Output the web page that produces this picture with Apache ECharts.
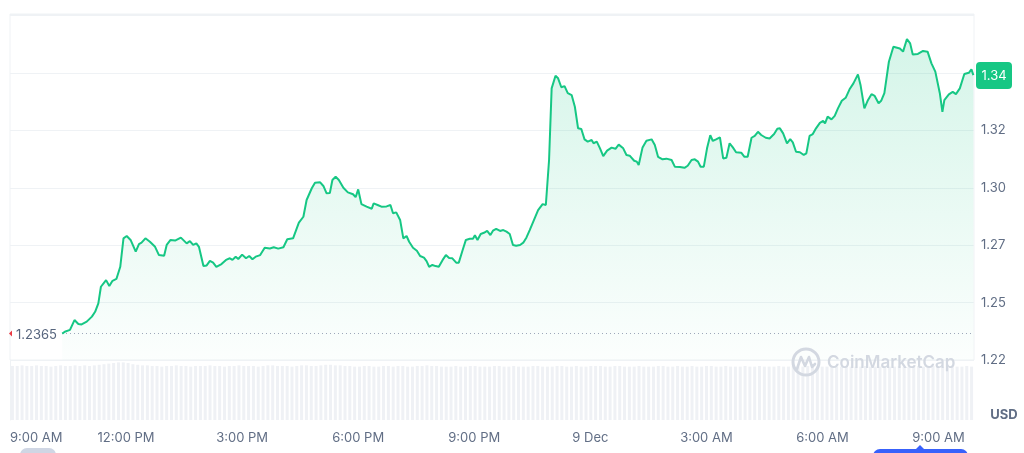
<!DOCTYPE html>
<html>
<head>
<meta charset="utf-8">
<script src="https://cdn.jsdelivr.net/npm/echarts@6/dist/echarts.min.js"></script>
<style>
html,body{margin:0;padding:0;background:#fff;}
#c{width:1024px;height:453px;}
</style>
</head>
<body>
<div id="c"></div>
<script>
// x labels every 180 minutes starting 9:00 AM (8 Dec)
const xLabels = ['9:00 AM','12:00 PM','3:00 PM','6:00 PM','9:00 PM','9 Dec','3:00 AM','6:00 AM','9:00 AM'];
// y tick values and their labels
const yTicks = [1.225, 1.25, 1.275, 1.30, 1.325, 1.35];
const yLabels = ['1.22','1.25','1.27','1.30','1.32',''];
const openPrice = 1.2365;
const currency = 'USD';

// minutes since 9:00 AM
const times = [
81,85,93,100,106,111,119,127,132,137,141,149,154,159,165,171,176,181,187,195,
200,204,210,217,225,231,239,243,249,256,265,274,279,284,289,293,300,305,310,315,
320,328,335,341,345,350,354,360,366,371,376,381,388,395,403,409,416,424,430,439,
448,455,460,468,473,481,486,491,496,500,505,510,517,524,532,536,540,545,553,561,
564,571,576,584,590,594,599,605,610,615,619,625,631,636,642,646,650,655,660,665,
671,676,681,686,692,696,702,707,713,718,721,725,730,735,740,745,749,754,760,765,
770,775,780,785,791,796,801,806,819,826,831,836,840,846,850,855,860,865,871,876,
881,886,891,896,902,905,910,915,920,926,933,939,944,951,956,961,968,972,975,981,
987,995,1000,1005,1012,1018,1026,1031,1039,1046,1051,1057,1062,1067,1071,1076,1081,1086,1090,1095,
1101,1106,1111,1116,1121,1126,1134,1139,1144,1150,1155,1160,1165,1172,1178,1185,1190,1194,1199,1205,
1210,1214,1219,1225,1231,1235,1240,1245,1250,1256,1261,1264,1268,1274,1279,1284,1290,1296,1302,1308,
1315,1319,1325,1330,1336,1341,1347,1351,1356,1363,1370,1380,1385,1391,1396,1400,1408,1416,1423,1429,
1435,1442,1446,1449,1456,1462,1467,1473,1480,1487,1491,1494
];
const prices = [
1.2365,1.2373,1.2381,1.2424,1.2407,1.2405,1.2417,1.2439,1.2460,1.2497,1.2569,1.2598,1.2572,1.2595,1.2603,1.2656,1.2780,1.2790,1.2773,1.2722,
1.2755,1.2761,1.2780,1.2765,1.2743,1.2707,1.2704,1.2751,1.2773,1.2770,1.2783,1.2758,1.2768,1.2751,1.2758,1.2743,1.2659,1.2662,1.2682,1.2674,
1.2656,1.2668,1.2686,1.2693,1.2686,1.2700,1.2690,1.2709,1.2693,1.2703,1.2689,1.2700,1.2707,1.2739,1.2736,1.2741,1.2735,1.2741,1.2776,1.2780,
1.2848,1.2874,1.2947,1.2998,1.3022,1.3024,1.3008,1.2976,1.2977,1.3034,1.3048,1.3034,1.3000,1.2980,1.2972,1.2959,1.2993,1.2929,1.2918,1.2909,
1.2932,1.2924,1.2918,1.2919,1.2925,1.2889,1.2893,1.2860,1.2780,1.2790,1.2765,1.2739,1.2726,1.2703,1.2696,1.2681,1.2656,1.2664,1.2659,1.2656,
1.2686,1.2707,1.2694,1.2693,1.2674,1.2674,1.2729,1.2773,1.2778,1.2778,1.2793,1.2773,1.2799,1.2804,1.2812,1.2794,1.2813,1.2821,1.2812,1.2816,
1.2809,1.2799,1.2751,1.2748,1.2751,1.2761,1.2784,1.2816,1.2903,1.2929,1.2925,1.3121,1.3433,1.3488,1.3477,1.3438,1.3443,1.3412,1.3404,1.3353,
1.3259,1.3256,1.3211,1.3201,1.3208,1.3194,1.3201,1.3172,1.3138,1.3162,1.3175,1.3170,1.3188,1.3172,1.3143,1.3140,1.3118,1.3114,1.3099,1.3176,
1.3205,1.3211,1.3186,1.3135,1.3124,1.3127,1.3121,1.3092,1.3091,1.3087,1.3096,1.3121,1.3124,1.3114,1.3092,1.3092,1.3172,1.3229,1.3204,1.3211,
1.3220,1.3128,1.3131,1.3194,1.3176,1.3155,1.3153,1.3135,1.3135,1.3218,1.3226,1.3244,1.3230,1.3218,1.3215,1.3234,1.3257,1.3259,1.3237,1.3194,
1.3212,1.3198,1.3157,1.3155,1.3143,1.3150,1.3226,1.3234,1.3259,1.3283,1.3291,1.3281,1.3310,1.3298,1.3313,1.3346,1.3379,1.3392,1.3429,1.3455,
1.3494,1.3448,1.3346,1.3379,1.3408,1.3400,1.3368,1.3379,1.3412,1.3549,1.3614,1.3607,1.3593,1.3648,1.3629,1.3581,1.3583,1.3596,1.3593,1.3542,
1.3506,1.3412,1.3331,1.3382,1.3407,1.3418,1.3408,1.3433,1.3496,1.3501,1.3516,1.3491
];
// volume bars (relative heights), evenly spread over the time range
const volumes = [
90,90,91,90,90,91,90,90,89,90,91,90,90,91,90,91,90,91,92,93,
94,95,96,96,95,93,92,91,91,90,90,89,90,90,91,90,90,89,90,90,
90,91,90,90,89,90,90,91,90,90,90,89,90,91,91,90,90,90,89,90,
91,91,90,90,91,92,92,91,91,90,90,89,89,90,90,89,89,90,90,89,
90,90,89,89,90,90,91,90,90,89,89,89,90,89,89,90,90,89,89,89,
90,90,89,89,90,89,89,89,90,90,89,89,89,90,90,89,89,90,89,89,
90,90,90,89,89,90,90,89,89,89,90,89,89,89,90,90,89,89,90,89,
89,90,89,89,90,90,89,89,90,89,89,89,90,89,89,90,89,89,89,90,
89,89,90,89,89,90,90,89,89,89,90,89,89,90,89,89,89,90,89,89,
89,90,89,89,90,89,89,89,90,89,89,90,89,89,90,89,89,89,90,89
];

const X_MAX = 1495, X_STEP = 180;
const Y_MIN = 1.225, Y_MAX = 1.3757, Y_STEP = 0.025;

const lineData = times.map((t, i) => [t, prices[i]]);
const volStep = X_MAX / volumes.length;
const volData = volumes.map((v, i) => [(i + 0.5) * volStep, v]);

const green = '#16c784';
const labelColor = '#616e85';
const gridColor = '#eff2f5';

const chart = echarts.init(document.getElementById('c'), null, {renderer: 'canvas'});
const option = {
  animation: false,
  backgroundColor: '#ffffff',
  textStyle: {fontFamily: 'Inter, sans-serif'},
  grid: [
    {left: 10, right: 50, top: 14, bottom: 93, show: true, borderColor: gridColor, borderWidth: 1, backgroundColor: 'transparent'},
    {left: 10, right: 50, top: 360, bottom: 33, show: false}
  ],
  xAxis: [
    {type: 'value', gridIndex: 0, min: 0, max: X_MAX, interval: X_STEP,
     axisLine: {show: false}, axisTick: {show: false}, axisLabel: {show: false}, splitLine: {show: false}},
    {type: 'value', gridIndex: 1, min: 0, max: X_MAX, interval: X_STEP,
     axisLine: {show: false}, axisTick: {show: false}, splitLine: {show: false},
     axisLabel: {show: true, color: labelColor, fontSize: 13, margin: 12, fontFamily: 'Inter',
       showMaxLabel: false, alignMinLabel: 'left',
       formatter: v => (Math.abs(v % X_STEP) < 1e-6 ? (xLabels[Math.round(v / X_STEP)] || '') : '')}}
  ],
  yAxis: [
    {type: 'value', gridIndex: 0, position: 'right', min: Y_MIN, max: Y_MAX, interval: Y_STEP,
     axisLine: {show: false}, axisTick: {show: false},
     splitLine: {show: true, lineStyle: {color: gridColor, width: 1}},
     axisLabel: {color: labelColor, fontSize: 13, margin: 7, fontFamily: 'Inter', showMaxLabel: false,
       formatter: v => {
         const i = yTicks.findIndex(t => Math.abs(t - v) < 1e-6);
         return i >= 0 ? yLabels[i] : '';
       }}},
    {type: 'value', gridIndex: 1, position: 'left', min: 0, max: 100,
     axisLine: {show: true, lineStyle: {color: gridColor}}, axisTick: {show: false},
     axisLabel: {show: false}, splitLine: {show: false}}
  ],
  series: [
    {type: 'bar', xAxisIndex: 1, yAxisIndex: 1, data: volData, barWidth: 3,
     itemStyle: {color: '#eff1f5'}, silent: true},
    {type: 'line', xAxisIndex: 0, yAxisIndex: 0, data: lineData, showSymbol: false, symbol: 'none',
     lineStyle: {color: green, width: 2}, z: 5,
     areaStyle: {color: new echarts.graphic.LinearGradient(0, 0, 0, 1, [
       {offset: 0, color: 'rgba(22,199,132,0.26)'},
       {offset: 1, color: 'rgba(22,199,132,0.02)'}
     ])},
     markLine: {silent: true, symbol: 'none', precision: 4, label: {show: false},
       lineStyle: {color: '#a1a7bb', type: [1, 3], width: 1},
       data: [{yAxis: openPrice}]}}
  ]
};
chart.setOption(option);

const last = lineData[lineData.length - 1];
const pLast = chart.convertToPixel({xAxisIndex: 0, yAxisIndex: 0}, last);
const pOpen = chart.convertToPixel({xAxisIndex: 0, yAxisIndex: 0}, [0, openPrice]);
const lastLabel = (Math.floor(last[1] * 100) / 100).toFixed(2);

chart.setOption({
  graphic: [
    // open price label
    {type: 'rect', z: 20, shape: {x: 14, y: pOpen[1] - 8, width: 47, height: 16}, style: {fill: '#ffffff'}},
    {type: 'polygon', z: 21, shape: {points: [[9, pOpen[1]], [12, pOpen[1] - 3], [12, pOpen[1] + 3]]}, style: {fill: '#ea3943'}},
    {type: 'text', z: 21, x: 16, y: pOpen[1] + 1, style: {text: String(openPrice), fill: '#58667e', font: '13px Inter', verticalAlign: 'middle', align: 'left'}},
    // last price badge
    {type: 'rect', z: 20, shape: {x: 976, y: pLast[1] - 13, width: 36, height: 27, r: 4}, style: {fill: green}},
    {type: 'text', z: 21, x: 994, y: pLast[1] + 1, style: {text: lastLabel, fill: '#ffffff', font: '13px Inter', align: 'center', verticalAlign: 'middle'}},
    // currency
    {type: 'text', z: 21, x: 1004, y: 415, style: {text: currency, fill: '#616e85', font: 'bold 13px Inter', align: 'center', verticalAlign: 'middle'}},
    // watermark
    {type: 'circle', z: 15, shape: {cx: 806, cy: 362, r: 13}, style: {fill: 'none', stroke: '#d3d8e1', lineWidth: 3}},
    {type: 'polyline', z: 15, shape: {points: [[797, 369], [801, 357], [805, 366], [809, 357], [812, 367], [815, 364]]}, style: {fill: 'none', stroke: '#d3d8e1', lineWidth: 2.6, lineJoin: 'round', lineCap: 'round'}},
    {type: 'text', z: 15, x: 827, y: 363, style: {text: 'CoinMarketCap', fill: '#d3d8e1', font: '600 17px Inter', verticalAlign: 'middle', align: 'left'}},
    // cut-off controls at bottom
    {type: 'rect', z: 15, shape: {x: 20, y: 448, width: 36, height: 14, r: 7}, style: {fill: '#cfd6e4'}},
    {type: 'rect', z: 15, shape: {x: 873, y: 449, width: 95, height: 14, r: 7}, style: {fill: '#3861fb'}},
    {type: 'polygon', z: 15, shape: {points: [[915, 450], [920, 445], [925, 450]]}, style: {fill: '#3861fb'}}
  ]
});
</script>
</body>
</html>
